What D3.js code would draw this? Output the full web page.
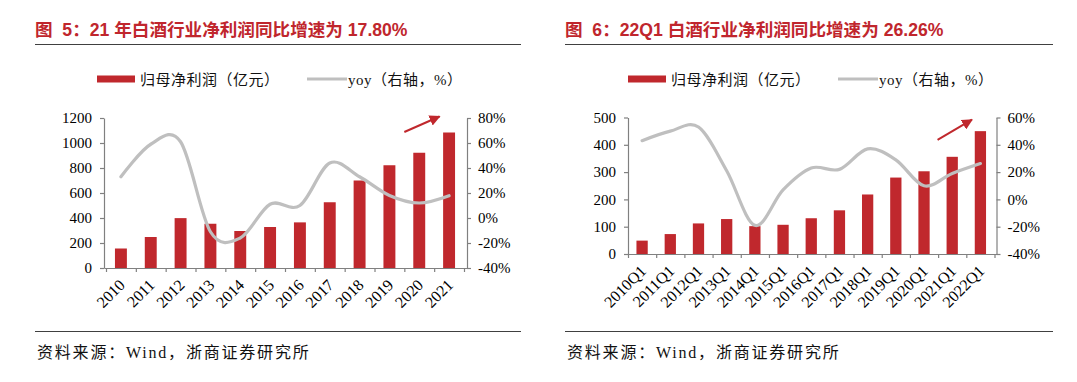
<!DOCTYPE html>
<html><head><meta charset="utf-8">
<script src="https://cdn.jsdelivr.net/npm/d3@7/dist/d3.min.js"></script>
<style>
body{margin:0;background:#fff;}
svg{display:block;}
</style></head>
<body>
<svg id="c" width="1077" height="382"></svg>
<script>
// ---------- data ----------
const years = ["2010","2011","2012","2013","2014","2015","2016","2017","2018","2019","2020","2021"];
const profitAnnual = [156,248,399,354,296,328,365,526,700,822,922,1084];
const yoyAnnual = [33,59,61,-11,-16,11,10,44,33,18,12,17.8];

const quarters = ["2010Q1","2011Q1","2012Q1","2013Q1","2014Q1","2015Q1","2016Q1","2017Q1","2018Q1","2019Q1","2020Q1","2021Q1","2022Q1"];
const profitQ1 = [49,73,112,128,102,107,131,160,218,280,303,356,450];
const yoyQ1 = [43,50,53,21,-19,7,23,22,37,29,10,19,26.26];

const leftTicksAnnual = [0,200,400,600,800,1000,1200];
const rightTicksAnnual = [-40,-20,0,20,40,60,80];
const leftTicksQ1 = [0,100,200,300,400,500];
const rightTicksQ1 = [-40,-20,0,20,40,60];

const titleAnnual = "图  5：21 年白酒行业净利润同比增速为 17.80%";
const titleQ1 = "图  6：22Q1 白酒行业净利润同比增速为 26.26%";
const legendBar = "归母净利润（亿元）";
const legendLine = "yoy（右轴，%）";
const sourceText = "资料来源：Wind，浙商证券研究所";

// arrow annotation: [category index (fractional), left-axis value]
const arrowAnnual = [[9.5, 1088],[10.68, 1212]];
const arrowQ1 = [[10.48, 418],[11.7, 492]];

// ---------- drawing ----------
const RED = "#C0282D";
const GRAY_LINE = "#BFBFBF";
const AXIS = "#808080";
const SERIF = "'Liberation Serif','Noto Sans CJK SC',serif";
const svg = d3.select("#c");

svg.append("defs").append("marker")
  .attr("id","ah").attr("viewBox","0 0 10 10").attr("refX",9).attr("refY",5)
  .attr("markerWidth",5.5).attr("markerHeight",5.5).attr("markerUnits","strokeWidth")
  .attr("orient","auto")
  .append("path").attr("d","M0,0 L10,5 L0,10 Z").attr("fill",RED);

function drawChart(o){
  const g = svg.append("g");
  // title
  g.append("text").attr("x",o.left0).attr("y",35.5)
    .attr("fill","#C0262D").attr("font-weight","bold").attr("font-size",17.6)
    .attr("font-family","'Liberation Sans','Noto Sans CJK SC',sans-serif")
    .style("white-space","pre").text(o.title);
  g.append("line").attr("x1",o.left0).attr("x2",o.right0).attr("y1",44.5).attr("y2",44.5)
    .attr("stroke","#404040").attr("stroke-width",1);
  g.append("line").attr("x1",o.left0).attr("x2",o.right0).attr("y1",331.5).attr("y2",331.5)
    .attr("stroke","#404040").attr("stroke-width",1);
  g.append("text").attr("x",o.left0+2).attr("y",357.5).attr("font-size",16)
    .attr("letter-spacing",1.8)
    .attr("font-family",SERIF).attr("fill","#111").text(sourceText);

  // legend
  g.append("rect").attr("x",o.legX).attr("y",75.5).attr("width",38).attr("height",7).attr("fill",RED);
  g.append("text").attr("x",o.legX+43).attr("y",84.5).attr("font-size",15).attr("letter-spacing",0.5)
    .attr("font-family",SERIF).attr("fill","#111").text(legendBar);
  g.append("line").attr("x1",o.legX2).attr("x2",o.legX2+40).attr("y1",79).attr("y2",79)
    .attr("stroke",GRAY_LINE).attr("stroke-width",3);
  g.append("text").attr("x",o.legX2+41).attr("y",84.5).attr("font-size",15).attr("letter-spacing",0.5)
    .attr("font-family",SERIF).attr("fill","#111").text(legendLine);

  // scales
  const x = d3.scaleBand().domain(o.cats).range(o.xRange).paddingInner(0.6).paddingOuter(0.3);
  const step = x.step();
  const yL = d3.scaleLinear().domain([0,o.leftMax]).range([o.yBottom,o.yTop]);
  const yR = d3.scaleLinear().domain([-40,o.rightMax]).range([o.yBottom,o.yTop]);
  const cx = i => o.xRange[0] + step/2 + i*step;

  // bars
  g.selectAll("rect.bar").data(o.vals).join("rect").attr("class","bar")
    .attr("x",(d,i)=>x(o.cats[i])).attr("width",x.bandwidth())
    .attr("y",d=>yL(d)).attr("height",d=>yL(0)-yL(d)).attr("fill",RED);

  // axes
  const axL = g.append("g").attr("transform",`translate(${o.leftAxisX},0)`)
    .call(d3.axisLeft(yL).tickValues(o.leftTicks).tickSize(4).tickSizeOuter(0).tickPadding(8).tickFormat(d3.format("d")));
  const axR = g.append("g").attr("transform",`translate(${o.rightAxisX},0)`)
    .call(d3.axisRight(yR).tickValues(o.rightTicks).tickSize(4).tickSizeOuter(0).tickPadding(7).tickFormat(d=>d+"%"));
  const boundaries = d3.range(0,o.cats.length+1).map(i=>o.xRange[0]+i*step);
  const axB = g.append("g").attr("transform",`translate(0,${o.yBottom})`)
    .call(d3.axisBottom(d3.scaleLinear().domain([o.leftAxisX,o.rightAxisX]).range([o.leftAxisX,o.rightAxisX]))
      .tickValues(boundaries).tickSize(4).tickSizeOuter(0).tickFormat(""));
  [axL,axR,axB].forEach(a=>{
    a.selectAll("path,line").attr("stroke",AXIS).attr("stroke-width",1.2);
    a.selectAll("text").attr("font-size",15).attr("font-family",SERIF).attr("fill","#000");
  });

  // rotated category labels
  g.selectAll("text.cat").data(o.cats).join("text").attr("class","cat")
    .attr("transform",(d,i)=>`translate(${cx(i)+5},${o.yBottom+18}) rotate(-45)`)
    .attr("text-anchor","end").attr("font-size",16).attr("font-family",SERIF).attr("fill","#000")
    .text(d=>d);

  // yoy line
  const line = d3.line().x((d,i)=>cx(i)).y(d=>yR(d)).curve(d3.curveCardinal.tension(0));
  g.append("path").datum(o.yoy).attr("d",line).attr("fill","none")
    .attr("stroke",GRAY_LINE).attr("stroke-width",3.2).attr("stroke-linecap","round");

  // arrow
  const [a0,a1] = o.arrow;
  g.append("line").attr("x1",cx(a0[0])).attr("y1",yL(a0[1])).attr("x2",cx(a1[0])).attr("y2",yL(a1[1]))
    .attr("stroke",RED).attr("stroke-width",2).attr("marker-end","url(#ah)");
}

drawChart({
  title:titleAnnual, left0:35, right0:521, legX:97, legX2:307,
  cats:years, vals:profitAnnual, yoy:yoyAnnual,
  xRange:[106,464], leftAxisX:104, rightAxisX:467, yTop:118, yBottom:268,
  leftMax:1200, rightMax:80, leftTicks:leftTicksAnnual, rightTicks:rightTicksAnnual,
  arrow:arrowAnnual
});
drawChart({
  title:titleQ1, left0:565, right0:1053, legX:628, legX2:838,
  cats:quarters, vals:profitQ1, yoy:yoyQ1,
  xRange:[628,994.5], leftAxisX:628, rightAxisX:996.5, yTop:117.5, yBottom:254,
  leftMax:500, rightMax:60, leftTicks:leftTicksQ1, rightTicks:rightTicksQ1,
  arrow:arrowQ1
});
</script>
</body></html>
